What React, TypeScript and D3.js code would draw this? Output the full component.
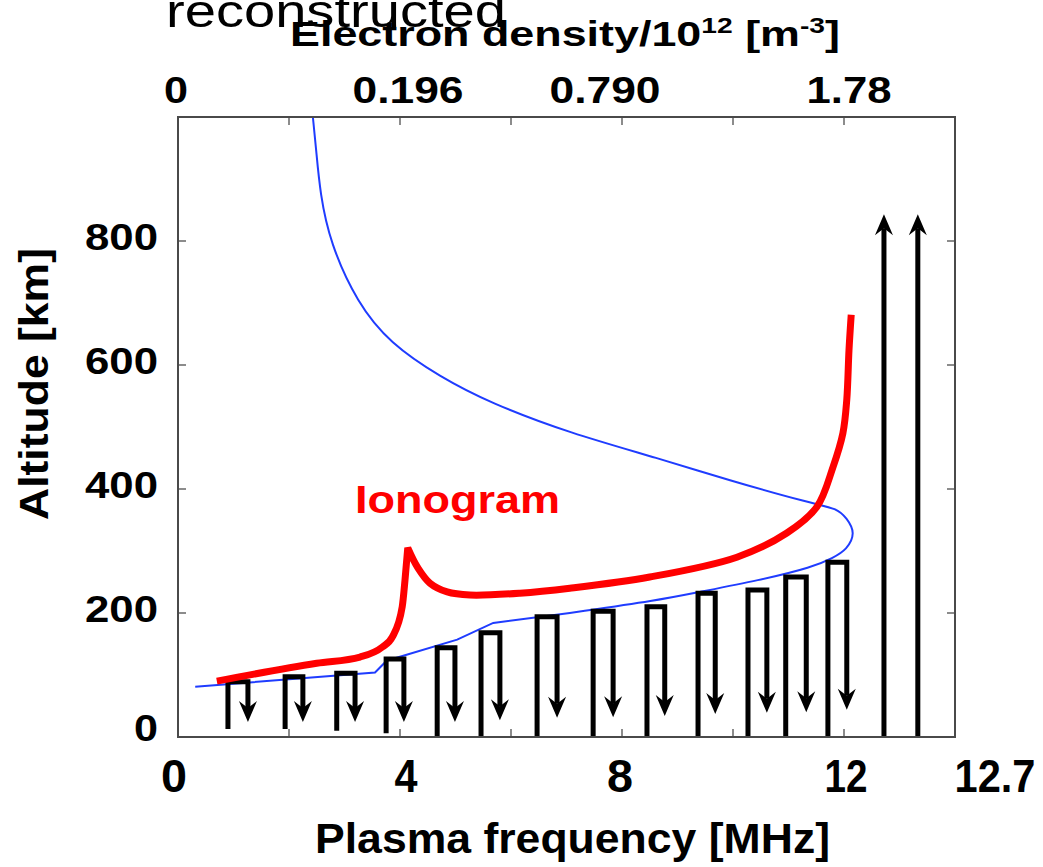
import React from "react";
import * as d3 from "d3";

// ---- data ----
const blueFreq = [0.31, 3.55, 3.76, 5.03, 5.68, 7.06, 8.68, 9.28, 10.49, 11.44, 11.8, 12.05, 12.21, 12.05, 11.87, 11.44, 9.89, 8.68, 7.06, 5.62, 4.72, 3.82, 3.23, 2.74, 2.56, 2.49, 2.43];
const blueAlt = [81, 104, 123, 157, 184, 200, 221, 232, 253, 274, 289, 302, 329, 353, 369, 376, 415, 449, 490, 539, 581, 635, 700, 797, 877, 947, 1000];

const redFreq = [0.7, 2.5, 3.28, 3.68, 3.86, 4.04, 4.09, 4.14, 4.32, 4.54, 4.85, 5.26, 6.16, 7.06, 8.5, 10.07, 10.97, 11.51, 11.8, 11.98, 12.05, 12.09, 12.13];
const redAlt = [90, 119, 129, 145, 161, 210, 253, 305, 273, 248, 234, 229, 232, 240, 258, 290, 329, 371, 435, 490, 544, 624, 681];

const echoUpFreq = [0.9, 1.93, 2.86, 3.75, 4.67, 5.46, 6.47, 7.48, 8.45, 9.37, 10.27, 10.95, 11.71];
const echoDownFreq = [1.26, 2.25, 3.19, 4.07, 4.99, 5.8, 6.83, 7.84, 8.77, 9.68, 10.61, 11.32, 12.05];
const echoTopAlt = [89, 97, 103, 126, 144, 168, 194, 203, 210, 232, 237, 258, 282];
const echoBaseAlt = [13, 13, 10, 6, 0, 0, 0, 0, 0, 0, 0, 0, 0];
const echoTipAlt = [24, 24, 24, 24, 24, 27, 31, 32, 34, 37, 39, 40, 44];

const upArrowFreq = [12.72, 13.33];
const upArrowTopAlt = [843, 843];

const gridFreqTicks = [2, 4, 6, 8, 10, 12];
const altTicks = [200, 400, 600, 800];

const topTickFreq = [0, 4, 8, 12];
const topTickLabels = ["0", "0.196", "0.790", "1.78"];
const bottomTickFreq = [0, 4, 8, 12, 12.7];
const bottomTickLabels = ["0", "4", "8", "12", "12.7"];
const leftTickAlt = [0, 200, 400, 600, 800];
const leftTickLabels = ["0", "200", "400", "600", "800"];

// ---- layout/style ----
const W = 1043;
const H = 867;
const FONT = "'Liberation Sans', Arial, Helvetica, sans-serif";
const topLabelNudge = [-2, 8, -17, 5];
const topLabelLen = [24, 111, 111, 85];
const bottomLabelPos = (v: number, i: number, x: (n: number) => number) =>
  i === 4 ? x(14) + 40 : x(v) + [-4, 6, -2, 2][i];
const bottomLabelLen = [26, 23, 26, 43, 81];

export default function App() {
  const x = d3.scaleLinear().domain([0, 14]).range([178, 955]);
  const y = d3.scaleLinear().domain([0, 1000]).range([737, 117]);

  type P = [number, number];
  const bluePts = blueFreq.map((f, i) => [f, blueAlt[i]] as P);
  const lin = d3.line<P>().x((d) => x(d[0])).y((d) => y(d[1]));
  const basis = d3
    .line<P>()
    .x((d) => x(d[0]))
    .y((d) => y(d[1]))
    .curve(d3.curveBasis);
  const blueD = (lin(bluePts.slice(0, 6)) || "") + (basis(bluePts.slice(5)) || "").replace(/^M/, "L");

  const redPts = redFreq.map((f, i) => [f, redAlt[i]] as P);
  const monoX = d3
    .line<P>()
    .x((d) => x(d[0]))
    .y((d) => y(d[1]))
    .curve(d3.curveMonotoneX);
  const cr = d3
    .line<P>()
    .x((d) => x(d[0]))
    .y((d) => y(d[1]))
    .curve(d3.curveCatmullRom.alpha(0.5));
  const peak = 7;
  const redD = (monoX(redPts.slice(0, peak + 1)) || "") + (cr(redPts.slice(peak)) || "").replace(/^M/, "L");

  const L = 178, R = 955, T = 117, B = 737;
  const tickLen = 8;

  const downHead = (cx: number, ty: number) =>
    `M${cx},${ty} L${cx - 9},${ty - 21} L${cx},${ty - 14} L${cx + 9},${ty - 21} Z`;
  const upHead = (cx: number, ty: number) =>
    `M${cx},${ty} L${cx - 9},${ty + 21} L${cx},${ty + 14} L${cx + 9},${ty + 21} Z`;

  return (
    <svg
      width={W}
      height={H}
      viewBox={`0 0 ${W} ${H}`}
      style={{ position: "absolute", left: 0, top: 0, background: "#fff" }}
      fontFamily={FONT}
    >
      <rect x={0} y={0} width={W} height={H} fill="#fff" />

      {/* ticks */}
      <g stroke="#666" strokeWidth={1.5}>
        {gridFreqTicks.map((f) => (
          <g key={"ft" + f}>
            <line x1={x(f)} x2={x(f)} y1={T} y2={T + tickLen} />
            <line x1={x(f)} x2={x(f)} y1={B} y2={B - tickLen} />
          </g>
        ))}
        {altTicks.map((a) => (
          <g key={"at" + a}>
            <line x1={L} x2={L + tickLen} y1={y(a)} y2={y(a)} />
            <line x1={R} x2={R - tickLen} y1={y(a)} y2={y(a)} />
          </g>
        ))}
      </g>

      {/* blue profile */}
      <path d={blueD} fill="none" stroke="#1f3cff" strokeWidth={2} />

      {/* echoes */}
      <g>
        {echoUpFreq.map((f, i) => {
          const xu = x(f);
          const xd = x(echoDownFreq[i]);
          const tip = y(echoTipAlt[i]);
          const d = `M${xu},${y(echoBaseAlt[i])} V${y(echoTopAlt[i])} H${xd} V${tip - 14}`;
          return (
            <g key={"e" + i}>
              <path d={d} fill="none" stroke="#000" strokeWidth={5} strokeLinejoin="miter" />
              <path d={downHead(xd, tip)} fill="#000" />
            </g>
          );
        })}
        {upArrowFreq.map((f, i) => (
          <g key={"u" + i}>
            <line x1={x(f)} x2={x(f)} y1={y(0)} y2={y(upArrowTopAlt[i]) + 14} stroke="#000" strokeWidth={5} />
            <path d={upHead(x(f), y(upArrowTopAlt[i]))} fill="#000" />
          </g>
        ))}
      </g>

      {/* red ionogram */}
      <path d={redD} fill="none" stroke="#ff0000" strokeWidth={7} strokeLinejoin="miter" strokeLinecap="butt" />

      {/* frame */}
      <rect x={L} y={T} width={R - L} height={B - T} fill="none" stroke="#4a4a4a" strokeWidth={2} />

      {/* texts */}
      <text x={166} y={27} fontSize={46} textLength={340} lengthAdjust="spacingAndGlyphs" fill="#000">
        reconstructed
      </text>
      <text x={290} y={46} fontSize={35} fontWeight="bold" textLength={550} lengthAdjust="spacingAndGlyphs" fill="#000">
        Electron density/10
        <tspan dy={-13} fontSize={22}>12</tspan>
        <tspan dy={13}> [m</tspan>
        <tspan dy={-13} fontSize={22}>-3</tspan>
        <tspan dy={13}>]</tspan>
      </text>

      {topTickFreq.map((f, i) => (
        <text
          key={"tl" + i}
          x={x(f) + topLabelNudge[i] - topLabelLen[i] / 2}
          y={103}
          fontSize={36}
          fontWeight="bold"
          textLength={topLabelLen[i]}
          lengthAdjust="spacingAndGlyphs"
        >
          {topTickLabels[i]}
        </text>
      ))}

      {leftTickAlt.map((a, i) => (
        <text
          key={"ll" + i}
          x={158 - (leftTickLabels[i].length === 1 ? 24 : 73)}
          y={y(a) + 9 + (a === 0 ? -5 : 0)}
          fontSize={36}
          fontWeight="bold"
          textLength={leftTickLabels[i].length === 1 ? 24 : 73}
          lengthAdjust="spacingAndGlyphs"
        >
          {leftTickLabels[i]}
        </text>
      ))}

      {bottomTickFreq.map((f, i) => (
        <text
          key={"bl" + i}
          x={bottomLabelPos(f, i, x) - bottomLabelLen[i] / 2}
          y={792}
          fontSize={46}
          fontWeight="bold"
          textLength={bottomLabelLen[i]}
          lengthAdjust="spacingAndGlyphs"
        >
          {bottomTickLabels[i]}
        </text>
      ))}

      <text
        x={315}
        y={853}
        fontSize={42}
        fontWeight="bold"
        textLength={515}
        lengthAdjust="spacingAndGlyphs"
      >
        Plasma frequency [MHz]
      </text>

      <text
        transform="translate(48,384) rotate(-90)"
        x={-136}
        y={0}
        fontSize={40}
        fontWeight="bold"
        textLength={272}
        lengthAdjust="spacingAndGlyphs"
      >
        Altitude [km]
      </text>

      <text x={355} y={513} fontSize={38} fontWeight="bold" fill="#ff0000" textLength={205} lengthAdjust="spacingAndGlyphs">
        Ionogram
      </text>
    </svg>
  );
}
